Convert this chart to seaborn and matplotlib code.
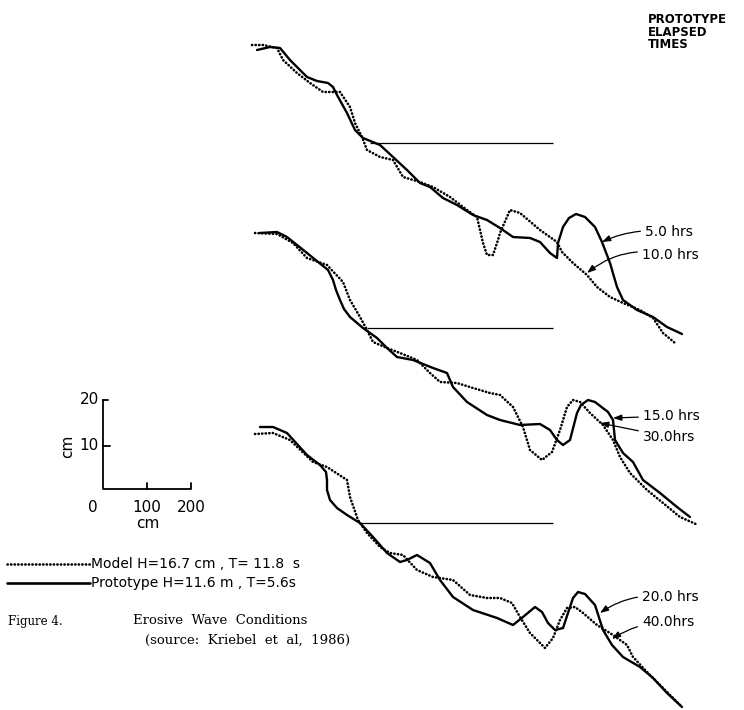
"""
Erosive wave conditions: model vs prototype beach profiles
(redrawn after Kriebel et al, 1986).
"""

import matplotlib

matplotlib.use("Agg")
import matplotlib.pyplot as plt
import pandas as pd
import seaborn as sns

sns.set_theme(style="white")
plt.rcParams["font.family"] = ["DejaVu Sans"]
plt.rcParams["text.color"] = "black"

# ---------------------------------------------------------------------------
# Digitised profiles (drawing units, y grows downward)
# ---------------------------------------------------------------------------
top_model_x = [252, 263, 277, 283, 297, 310, 323, 340, 350, 355, 362, 367, 380, 393,
               403, 420, 433, 450, 467, 477, 483, 487, 493, 498, 500, 510, 520, 540,
               557, 562, 573, 587, 597, 610, 623, 640, 653, 663, 675]
top_model_y = [45, 45, 48, 60, 73, 83, 92, 92, 107, 123, 137, 150, 157, 160,
               177, 182, 187, 197, 210, 217, 243, 255, 255, 240, 233, 210, 213, 230,
               242, 252, 263, 275, 287, 297, 303, 310, 318, 333, 343]
top_proto_x = [257, 270, 280, 290, 307, 317, 328, 333, 337, 347, 355, 363, 380, 393,
               407, 420, 430, 443, 457, 473, 487, 500, 513, 530, 540, 550, 557, 558,
               563, 569, 576, 585, 595, 602, 610, 617, 623, 637, 653, 667, 682]
top_proto_y = [50, 47, 48, 60, 77, 81, 83, 87, 95, 113, 130, 138, 145, 157,
               170, 183, 187, 198, 205, 215, 220, 228, 237, 238, 242, 253, 258, 243,
               227, 218, 214, 217, 227, 242, 263, 287, 300, 310, 317, 327, 334]

mid_model_x = [255, 277, 293, 307, 327, 343, 350, 360, 367, 373, 387, 400, 417, 430,
               440, 457, 473, 490, 500, 513, 523, 530, 542, 552, 560, 567, 573, 580,
               590, 603, 613, 620, 630, 647, 663, 680, 698]
mid_model_y = [233, 234, 243, 258, 265, 282, 300, 317, 330, 342, 348, 353, 360, 373,
               382, 383, 388, 393, 395, 407, 427, 450, 460, 452, 430, 407, 400, 402,
               413, 425, 440, 457, 473, 490, 503, 517, 525]
mid_proto_x = [260, 277, 287, 307, 328, 333, 336, 340, 344, 350, 363, 377, 387, 397,
               413, 433, 447, 453, 467, 487, 500, 520, 540, 550, 557, 563, 570, 577,
               581, 588, 595, 608, 613, 615, 623, 633, 643, 660, 677, 690]
mid_proto_y = [233, 232, 237, 253, 270, 280, 290, 300, 309, 317, 328, 338, 348, 357,
               360, 368, 373, 387, 402, 415, 420, 425, 424, 430, 440, 445, 440, 413,
               405, 400, 402, 412, 420, 440, 453, 462, 480, 493, 507, 517]

bot_model_x = [255, 273, 290, 313, 327, 347, 350, 358, 367, 380, 390, 403, 417, 433,
               453, 470, 487, 500, 512, 520, 530, 545, 553, 560, 567, 575, 583, 597,
               613, 627, 633, 647, 663, 680]
bot_model_y = [434, 433, 440, 462, 467, 480, 497, 520, 533, 547, 553, 555, 570, 577,
               580, 595, 598, 598, 603, 617, 633, 648, 638, 620, 608, 607, 613, 625,
               635, 645, 657, 672, 688, 705]
bot_proto_x = [260, 273, 287, 307, 320, 326, 327, 327, 330, 337, 347, 360, 373, 387,
               400, 407, 417, 430, 440, 453, 473, 497, 513, 523, 535, 542, 548, 555,
               563, 570, 573, 578, 585, 595, 603, 612, 623, 640, 653, 667, 682]
bot_proto_y = [427, 427, 433, 455, 465, 472, 480, 490, 500, 508, 515, 523, 537, 553,
               562, 560, 555, 563, 580, 597, 610, 618, 625, 617, 607, 612, 623, 630,
               628, 607, 598, 592, 594, 605, 630, 645, 657, 667, 678, 693, 707]

# still water level per panel
swl_y = [143, 328, 523]
swl_x0 = [370, 367, 360]
swl_x1 = 553

# elapsed time labels: (text, text pos, arrow tip)
time_labels = ["5.0 hrs", "10.0 hrs", "15.0 hrs", "30.0hrs", "20.0 hrs", "40.0hrs"]
label_x = [645, 642, 643, 643, 642, 642]
label_y = [232, 255, 416, 437, 597, 622]
tip_x = [602, 587, 613, 600, 600, 612]
tip_y = [242, 273, 418, 423, 613, 639]
arc_rad = [0.15, 0.25, 0.0, 0.0, 0.2, 0.15]

# scale bar: 0-20 cm vertical, 0-200 cm horizontal
sb_x0, sb_y0 = 103, 489
sb_v_ticks = [20, 10]
sb_v_pos = [400, 446]
sb_h_ticks = [0, 100, 200]
sb_h_pos = [103, 147, 191]

legend_labels = ["Model H=16.7 cm , T= 11.8  s", "Prototype H=11.6 m , T=5.6s"]

DOTS = (0, (0.1, 1.25))


def draw_profile(ax, xs, ys, dotted):
    df = pd.DataFrame({"x": xs, "y": ys})
    if dotted:
        sns.lineplot(data=df, x="x", y="y", ax=ax, sort=False, estimator=None,
                     color="black", linewidth=1.9, linestyle=DOTS,
                     dash_capstyle="round", dash_joinstyle="round")
    else:
        sns.lineplot(data=df, x="x", y="y", ax=ax, sort=False, estimator=None,
                     color="black", linewidth=1.7, solid_capstyle="round",
                     solid_joinstyle="round")


fig = plt.figure(figsize=(7.44, 7.10), dpi=100)
ax = fig.add_axes([0, 0, 1, 1])

for mx, my, px, py in [(top_model_x, top_model_y, top_proto_x, top_proto_y),
                       (mid_model_x, mid_model_y, mid_proto_x, mid_proto_y),
                       (bot_model_x, bot_model_y, bot_proto_x, bot_proto_y)]:
    draw_profile(ax, mx, my, dotted=True)
    draw_profile(ax, px, py, dotted=False)

ax.hlines(swl_y, swl_x0, swl_x1, color="black", linewidth=0.9)

for txt, lx, ly, tx, ty, rad in zip(time_labels, label_x, label_y, tip_x, tip_y, arc_rad):
    ax.annotate(
        txt, xy=(tx, ty), xytext=(lx, ly), ha="left", va="center", fontsize=10,
        arrowprops=dict(arrowstyle="-|>,head_length=0.5,head_width=0.18",
                        color="black", lw=0.9, shrinkA=1, shrinkB=0,
                        connectionstyle=f"arc3,rad={rad}"),
    )

ax.text(648, 13, "PROTOTYPE\nELAPSED\nTIMES", ha="left", va="top", fontsize=8.5,
        linespacing=0.95, fontweight="bold")

# scale bar
ax.plot([sb_x0, sb_x0, sb_h_pos[-1], sb_h_pos[-1]],
        [sb_v_pos[0], sb_y0, sb_y0, sb_y0 - 6], color="black", lw=1.3)
ax.plot([sb_x0, sb_x0 + 5], [sb_v_pos[0]] * 2, color="black", lw=1.3)
ax.plot([sb_x0, sb_x0 + 7], [sb_v_pos[1]] * 2, color="black", lw=1.3)
ax.plot([sb_h_pos[1]] * 2, [sb_y0, sb_y0 - 6], color="black", lw=1.3)
for v, yp in zip(sb_v_ticks, sb_v_pos):
    ax.text(sb_x0 - 4, yp, str(v), ha="right", va="center", fontsize=11)
for h, xp in zip(sb_h_ticks, sb_h_pos):
    ax.text(xp - (10 if h == 0 else 0), sb_y0 + 18, str(h), ha="center",
            va="center", fontsize=11)
ax.text(68, 446, "cm", rotation=90, ha="center", va="center", fontsize=11)
ax.text(148, 523, "cm", ha="center", va="center", fontsize=11)

# legend
ax.plot([7, 90], [564, 564], color="black", lw=1.9, linestyle=DOTS,
        dash_capstyle="round")
ax.plot([7, 90], [583, 583], color="black", lw=1.9)
ax.text(91, 564, legend_labels[0], ha="left", va="center", fontsize=10)
ax.text(91, 583, legend_labels[1], ha="left", va="center", fontsize=10)

# caption
serif = ["DejaVu Serif"]
ax.text(8, 621, "Figure 4.", ha="left", va="center", fontsize=8.5, family=serif)
ax.text(133, 621, "Erosive  Wave  Conditions", ha="left", va="center",
        fontsize=9.5, family=serif)
ax.text(145, 640, "(source:  Kriebel  et  al,  1986)", ha="left", va="center",
        fontsize=9.5, family=serif)

ax.set_xlim(0, 744)
ax.set_ylim(710, 0)
ax.set_axis_off()

fig.savefig("out.png", dpi=100)
plt.close(fig)
